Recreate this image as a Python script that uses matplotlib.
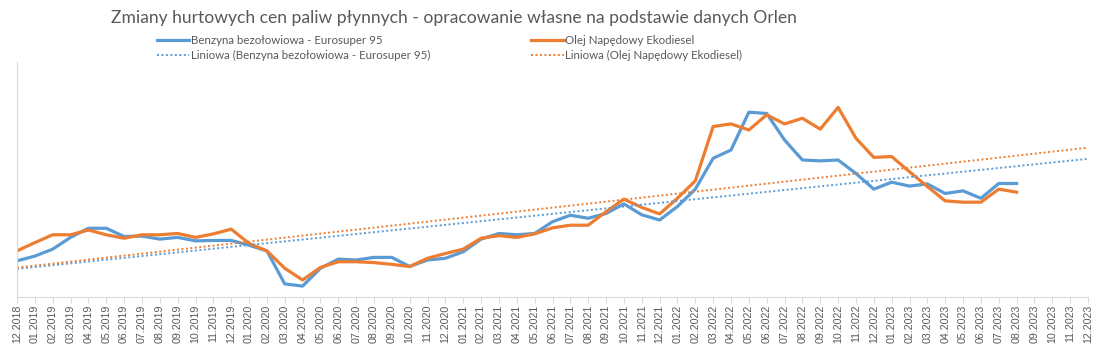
import numpy as np
import matplotlib
matplotlib.use("Agg")
import matplotlib.pyplot as plt

# dane - hurtowe ceny Orlen (PLN/m3)
miesiace = ["12.2018", "01.2019", "02.2019", "03.2019", "04.2019", "05.2019", "06.2019",
            "07.2019", "08.2019", "09.2019", "10.2019", "11.2019", "12.2019",
            "01.2020", "02.2020", "03.2020", "04.2020", "05.2020", "06.2020",
            "07.2020", "08.2020", "09.2020", "10.2020", "11.2020", "12.2020",
            "01.2021", "02.2021", "03.2021", "04.2021", "05.2021", "06.2021",
            "07.2021", "08.2021", "09.2021", "10.2021", "11.2021", "12.2021",
            "01.2022", "02.2022", "03.2022", "04.2022", "05.2022", "06.2022",
            "07.2022", "08.2022", "09.2022", "10.2022", "11.2022", "12.2022",
            "01.2023", "02.2023", "03.2023", "04.2023", "05.2023", "06.2023",
            "07.2023", "08.2023", "09.2023", "10.2023", "11.2023", "12.2023"]

benzyna = [3500, 3610, 3770, 4040, 4250, 4250, 4060, 4070, 4000, 4040, 3960, 3970,
           3970, 3860, 3730, 2970, 2920, 3330, 3540, 3520, 3580, 3580, 3370, 3520,
           3560, 3710, 4000, 4130, 4100, 4130, 4400, 4550, 4480, 4590, 4810, 4560,
           4440, 4750, 5150, 5860, 6050, 6920, 6890, 6280, 5820, 5800, 5820, 5510,
           5150, 5310, 5220, 5270, 5050, 5110, 4940, 5280, 5280]

diesel = [3730, 3920, 4100, 4100, 4210, 4100, 4020, 4100, 4100, 4130, 4040, 4120,
          4230, 3900, 3730, 3330, 3060, 3350, 3480, 3480, 3460, 3420, 3370, 3560,
          3670, 3770, 4020, 4080, 4040, 4120, 4260, 4320, 4320, 4630, 4920, 4730,
          4580, 4940, 5340, 6590, 6650, 6510, 6860, 6650, 6780, 6530, 7030, 6320,
          5880, 5900, 5550, 5210, 4880, 4850, 4850, 5150, 5080]

niebieski = "#5B9BD5"
pomaranczowy = "#ED7D31"
szary = "#595959"
czcionka = "Lato"

fig = plt.figure(figsize=(11.05, 3.53), dpi=100)
W, H = 1105, 353
ax = fig.add_axes([17 / W, 1 - 297 / H, 1071 / W, 235 / H])

x = np.arange(len(benzyna))
x_all = np.arange(len(miesiace))

l1, = ax.plot(x, benzyna, color=niebieski, lw=2.3, solid_joinstyle="round",
              label="Benzyna bezołowiowa - Eurosuper 95")
l3, = ax.plot(x, diesel, color=pomaranczowy, lw=2.3, solid_joinstyle="round",
              label="Olej Napędowy Ekodiesel")

# linie trendu (liniowe, z prognoza do 12.2023)
a_b, b_b = np.polyfit(x, benzyna, 1)
a_d, b_d = np.polyfit(x, diesel, 1)
l2, = ax.plot(x_all, a_b * x_all + b_b, color=niebieski, lw=1.4, ls=(0, (1, 1.3)),
              label="Liniowa (Benzyna bezołowiowa - Eurosuper 95)")
l4, = ax.plot(x_all, a_d * x_all + b_d, color=pomaranczowy, lw=1.4, ls=(0, (1, 1.3)),
              label="Liniowa (Olej Napędowy Ekodiesel)")

ax.set_xlim(0, len(miesiace) - 1)
ax.set_ylim(9500 - 23 * 297, 9500 - 23 * 62)
ax.set_xticks(x_all)
ax.set_xticklabels(miesiace, rotation=90, fontsize=7.7, color=szary,
                   family="Liberation Sans")
ax.set_yticks([])
for s in ["top", "right"]:
    ax.spines[s].set_visible(False)
for s in ["left", "bottom"]:
    ax.spines[s].set_color("#d9d9d9")
    ax.spines[s].set_linewidth(0.8)
ax.tick_params(axis="x", length=4, width=0.8, color="#d9d9d9", pad=1.5)

fig.text(111 / W, 1 - 23 / H, "Zmiany hurtowych cen paliw płynnych - opracowanie własne na podstawie danych Orlen",
         fontsize=12.6, color=szary, family=czcionka, ha="left", va="baseline")

fig.legend(handles=[l1, l2, l3, l4], ncol=2, frameon=False,
           loc="upper left", bbox_to_anchor=(157 / W, 1 - 35 / H),
           prop={"family": czcionka, "size": 8.3}, labelcolor=szary,
           handlelength=2.8, handletextpad=0.12, columnspacing=8.8,
           labelspacing=0.35, borderpad=0, borderaxespad=0)

fig.savefig("out.png", dpi=100, facecolor="white")
